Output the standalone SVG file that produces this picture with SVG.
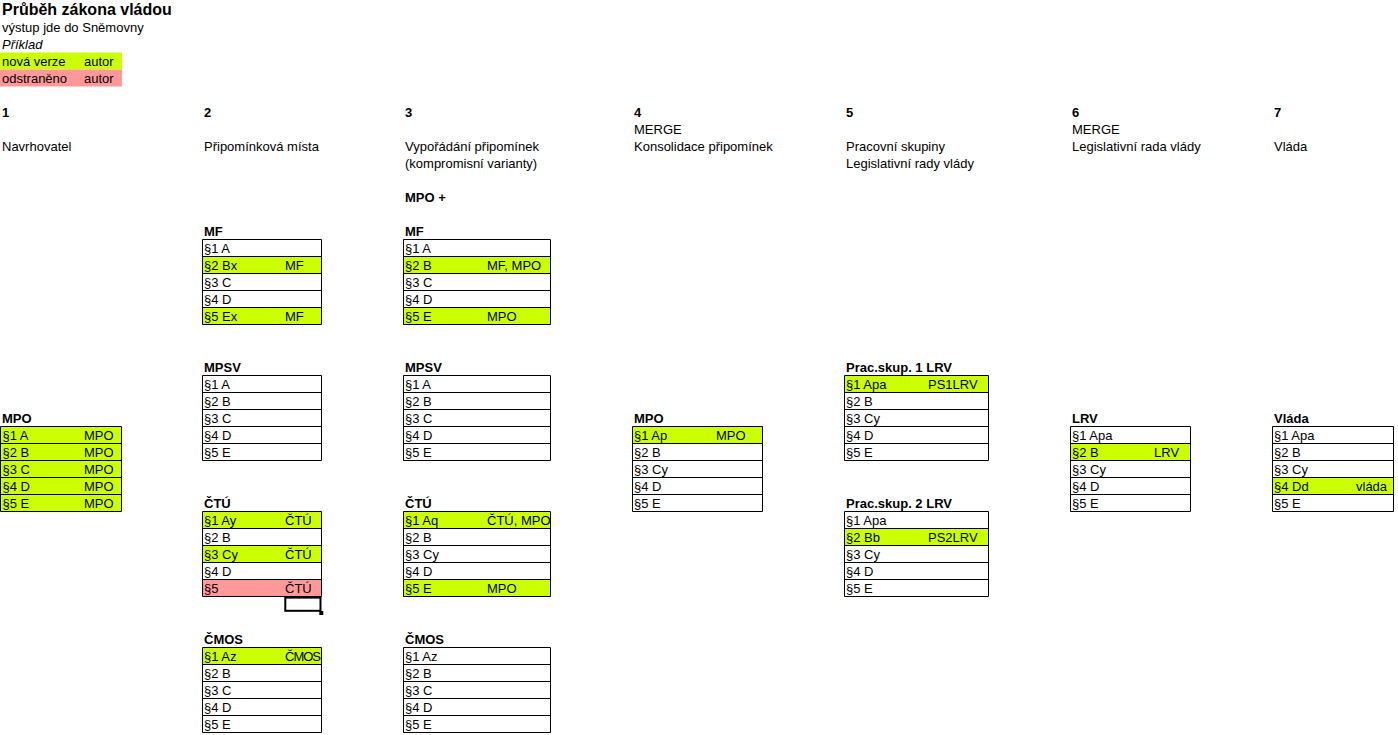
<svg xmlns="http://www.w3.org/2000/svg" width="1398" height="735" viewBox="0 0 1398 735">
<style>
text{font-family:"Liberation Sans",Arial,sans-serif;font-size:13px;fill:#000}
.b{font-weight:bold}
.h{font-weight:bold;font-size:16px}
.i{font-style:italic}
.g{fill:#ccff00}
.p{fill:#ff9999}
.box{fill:none;stroke:#000;stroke-width:1}
</style>
<rect x="0" y="0" width="1398" height="735" fill="#fff"/>
<g id="header">
<text class="h" x="2" y="15">Průběh zákona vládou</text>
<text x="2" y="32">výstup jde do Sněmovny</text>
<text class="i" x="2" y="49">Příklad</text>
<rect class="g" x="0" y="52.5" width="122" height="17"/>
<rect class="p" x="0" y="69.5" width="122" height="17"/>
<text x="2" y="66">nová verze</text><text x="84" y="66">autor</text>
<text x="2" y="83">odstraněno</text><text x="84" y="83">autor</text>
</g>
<g id="columns">
<text class="b" x="2" y="117">1</text>
<text x="2" y="151">Navrhovatel</text>
<text class="b" x="204" y="117">2</text>
<text x="204" y="151">Připomínková místa</text>
<text class="b" x="405" y="117">3</text>
<text x="405" y="151">Vypořádání připomínek</text>
<text x="405" y="168">(kompromisní varianty)</text>
<text class="b" x="405" y="202">MPO +</text>
<text class="b" x="634" y="117">4</text>
<text x="634" y="134">MERGE</text>
<text x="634" y="151">Konsolidace připomínek</text>
<text class="b" x="846" y="117">5</text>
<text x="846" y="151">Pracovní skupiny</text>
<text x="846" y="168">Legislativní rady vlády</text>
<text class="b" x="1072" y="117">6</text>
<text x="1072" y="134">MERGE</text>
<text x="1072" y="151">Legislativní rada vlády</text>
<text class="b" x="1274" y="117">7</text>
<text x="1274" y="151">Vláda</text>
</g>
<g id="connectors"></g>

<g id="t1-mpo">
<text class="b" x="2" y="423">MPO</text>
<rect class="g" x="0.5" y="426.5" width="121" height="85"/>
<text x="2.5" y="440">§1 A</text><text x="84" y="440">MPO</text>
<text x="2.5" y="457">§2 B</text><text x="84" y="457">MPO</text>
<text x="2.5" y="474">§3 C</text><text x="84" y="474">MPO</text>
<text x="2.5" y="491">§4 D</text><text x="84" y="491">MPO</text>
<text x="2.5" y="508">§5 E</text><text x="84" y="508">MPO</text>
<path class="box" d="M0.5 426.5h121v85h-121z M0.5 443.5h121 M0.5 460.5h121 M0.5 477.5h121 M0.5 494.5h121"/>
</g>

<g id="t2-mf">
<text class="b" x="204" y="236">MF</text>
<rect class="g" x="202.5" y="256.5" width="119" height="17"/>
<rect class="g" x="202.5" y="307.5" width="119" height="17"/>
<text x="204" y="253">§1 A</text>
<text x="204" y="270">§2 Bx</text><text x="285" y="270">MF</text>
<text x="204" y="287">§3 C</text>
<text x="204" y="304">§4 D</text>
<text x="204" y="321">§5 Ex</text><text x="285" y="321">MF</text>
<path class="box" d="M202.5 239.5h119v85h-119z M202.5 256.5h119 M202.5 273.5h119 M202.5 290.5h119 M202.5 307.5h119"/>
</g>

<g id="t2-mpsv">
<text class="b" x="204" y="372">MPSV</text>
<text x="204" y="389">§1 A</text>
<text x="204" y="406">§2 B</text>
<text x="204" y="423">§3 C</text>
<text x="204" y="440">§4 D</text>
<text x="204" y="457">§5 E</text>
<path class="box" d="M202.5 375.5h119v85h-119z M202.5 392.5h119 M202.5 409.5h119 M202.5 426.5h119 M202.5 443.5h119"/>
</g>

<g id="t2-ctu">
<text class="b" x="204" y="508">ČTÚ</text>
<rect class="g" x="202.5" y="511.5" width="119" height="17"/>
<rect class="g" x="202.5" y="545.5" width="119" height="17"/>
<rect class="p" x="202.5" y="579.5" width="119" height="17"/>
<text x="204" y="525">§1 Ay</text><text x="285" y="525">ČTÚ</text>
<text x="204" y="542">§2 B</text>
<text x="204" y="559">§3 Cy</text><text x="285" y="559">ČTÚ</text>
<text x="204" y="576">§4 D</text>
<text x="204" y="593">§5</text><text x="285" y="593">ČTÚ</text>
<path class="box" d="M202.5 511.5h119v85h-119z M202.5 528.5h119 M202.5 545.5h119 M202.5 562.5h119 M202.5 579.5h119"/>
</g>

<g id="selection">
<rect x="285.3" y="597.6" width="35.2" height="13.2" fill="none" stroke="#000" stroke-width="2"/>
<rect x="319.3" y="611" width="4" height="4" fill="#000"/>
</g>

<g id="t2-cmos">
<text class="b" x="204" y="644">ČMOS</text>
<rect class="g" x="202.5" y="647.5" width="119" height="17"/>
<text x="204" y="661">§1 Az</text><text x="285" y="661" textLength="36">ČMOS</text>
<text x="204" y="678">§2 B</text>
<text x="204" y="695">§3 C</text>
<text x="204" y="712">§4 D</text>
<text x="204" y="729">§5 E</text>
<path class="box" d="M202.5 647.5h119v85h-119z M202.5 664.5h119 M202.5 681.5h119 M202.5 698.5h119 M202.5 715.5h119"/>
</g>

<g id="t3-mf">
<text class="b" x="405" y="236">MF</text>
<rect class="g" x="403.5" y="256.5" width="147" height="17"/>
<rect class="g" x="403.5" y="307.5" width="147" height="17"/>
<text x="405" y="253">§1 A</text>
<text x="405" y="270">§2 B</text><text x="487" y="270">MF, MPO</text>
<text x="405" y="287">§3 C</text>
<text x="405" y="304">§4 D</text>
<text x="405" y="321">§5 E</text><text x="487" y="321">MPO</text>
<path class="box" d="M403.5 239.5h147v85h-147z M403.5 256.5h147 M403.5 273.5h147 M403.5 290.5h147 M403.5 307.5h147"/>
</g>

<g id="t3-mpsv">
<text class="b" x="405" y="372">MPSV</text>
<text x="405" y="389">§1 A</text>
<text x="405" y="406">§2 B</text>
<text x="405" y="423">§3 C</text>
<text x="405" y="440">§4 D</text>
<text x="405" y="457">§5 E</text>
<path class="box" d="M403.5 375.5h147v85h-147z M403.5 392.5h147 M403.5 409.5h147 M403.5 426.5h147 M403.5 443.5h147"/>
</g>

<g id="t3-ctu">
<text class="b" x="405" y="508">ČTÚ</text>
<rect class="g" x="403.5" y="511.5" width="147" height="17"/>
<rect class="g" x="403.5" y="579.5" width="147" height="17"/>
<text x="405" y="525">§1 Aq</text><text x="487" y="525">ČTÚ, MPO</text>
<text x="405" y="542">§2 B</text>
<text x="405" y="559">§3 Cy</text>
<text x="405" y="576">§4 D</text>
<text x="405" y="593">§5 E</text><text x="487" y="593">MPO</text>
<path class="box" d="M403.5 511.5h147v85h-147z M403.5 528.5h147 M403.5 545.5h147 M403.5 562.5h147 M403.5 579.5h147"/>
</g>

<g id="t3-cmos">
<text class="b" x="405" y="644">ČMOS</text>
<text x="405" y="661">§1 Az</text>
<text x="405" y="678">§2 B</text>
<text x="405" y="695">§3 C</text>
<text x="405" y="712">§4 D</text>
<text x="405" y="729">§5 E</text>
<path class="box" d="M403.5 647.5h147v85h-147z M403.5 664.5h147 M403.5 681.5h147 M403.5 698.5h147 M403.5 715.5h147"/>
</g>

<g id="t4-mpo">
<text class="b" x="634" y="423">MPO</text>
<rect class="g" x="632.5" y="426.5" width="130" height="17"/>
<text x="634" y="440">§1 Ap</text><text x="716" y="440">MPO</text>
<text x="634" y="457">§2 B</text>
<text x="634" y="474">§3 Cy</text>
<text x="634" y="491">§4 D</text>
<text x="634" y="508">§5 E</text>
<path class="box" d="M632.5 426.5h130v85h-130z M632.5 443.5h130 M632.5 460.5h130 M632.5 477.5h130 M632.5 494.5h130"/>
</g>

<g id="t5-ps1">
<text class="b" x="846" y="372">Prac.skup. 1 LRV</text>
<rect class="g" x="844.5" y="375.5" width="144" height="17"/>
<text x="846" y="389">§1 Apa</text><text x="928" y="389">PS1LRV</text>
<text x="846" y="406">§2 B</text>
<text x="846" y="423">§3 Cy</text>
<text x="846" y="440">§4 D</text>
<text x="846" y="457">§5 E</text>
<path class="box" d="M844.5 375.5h144v85h-144z M844.5 392.5h144 M844.5 409.5h144 M844.5 426.5h144 M844.5 443.5h144"/>
</g>

<g id="t5-ps2">
<text class="b" x="846" y="508">Prac.skup. 2 LRV</text>
<rect class="g" x="844.5" y="528.5" width="144" height="17"/>
<text x="846" y="525">§1 Apa</text>
<text x="846" y="542">§2 Bb</text><text x="928" y="542">PS2LRV</text>
<text x="846" y="559">§3 Cy</text>
<text x="846" y="576">§4 D</text>
<text x="846" y="593">§5 E</text>
<path class="box" d="M844.5 511.5h144v85h-144z M844.5 528.5h144 M844.5 545.5h144 M844.5 562.5h144 M844.5 579.5h144"/>
</g>

<g id="t6-lrv">
<text class="b" x="1072" y="423">LRV</text>
<rect class="g" x="1070.5" y="443.5" width="120" height="17"/>
<text x="1072" y="440">§1 Apa</text>
<text x="1072" y="457">§2 B</text><text x="1154" y="457">LRV</text>
<text x="1072" y="474">§3 Cy</text>
<text x="1072" y="491">§4 D</text>
<text x="1072" y="508">§5 E</text>
<path class="box" d="M1070.5 426.5h120v85h-120z M1070.5 443.5h120 M1070.5 460.5h120 M1070.5 477.5h120 M1070.5 494.5h120"/>
</g>

<g id="t7-vlada">
<text class="b" x="1274" y="423">Vláda</text>
<rect class="g" x="1272.5" y="477.5" width="121" height="17"/>
<text x="1274" y="440">§1 Apa</text>
<text x="1274" y="457">§2 B</text>
<text x="1274" y="474">§3 Cy</text>
<text x="1274" y="491">§4 Dd</text><text x="1356" y="491">vláda</text>
<text x="1274" y="508">§5 E</text>
<path class="box" d="M1272.5 426.5h121v85h-121z M1272.5 443.5h121 M1272.5 460.5h121 M1272.5 477.5h121 M1272.5 494.5h121"/>
</g>
</svg>
